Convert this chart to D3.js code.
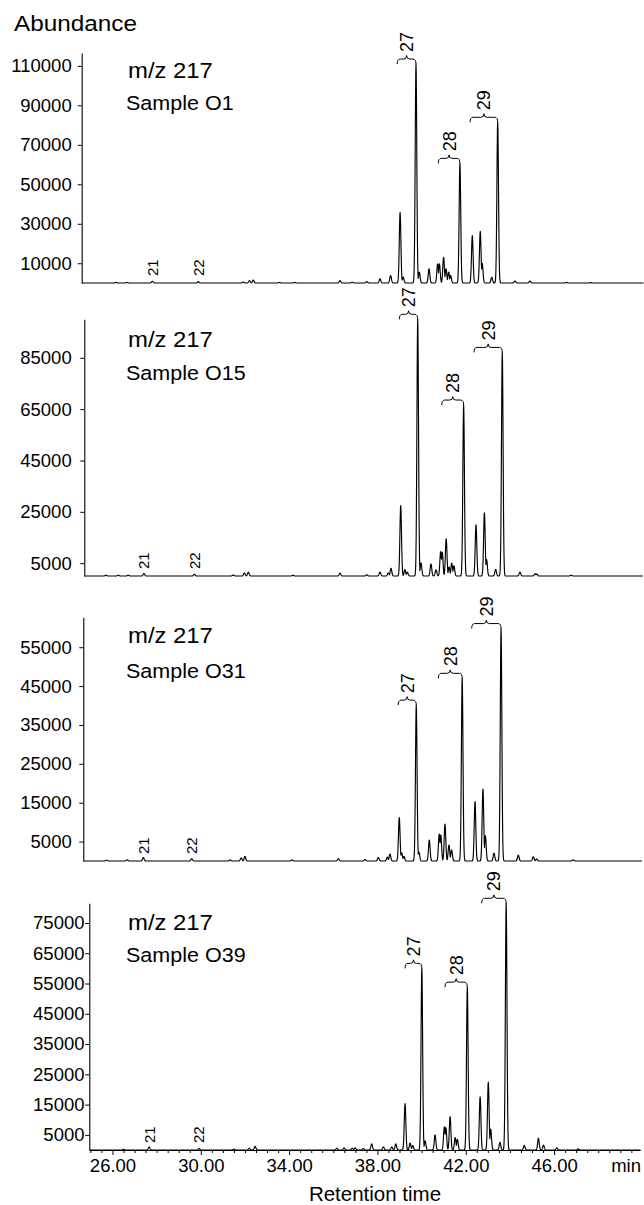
<!DOCTYPE html>
<html><head><meta charset="utf-8">
<script src="https://cdn.jsdelivr.net/npm/d3@7"></script>
<style>
body{margin:0;background:#fff;}
svg{display:block;font-family:"Liberation Sans",Arial,Helvetica,sans-serif;}
</style></head><body>
<svg id="chart" width="644" height="1205"></svg>
<script>
// ---------- DATA ----------
const samples = ["Sample O1", "Sample O15", "Sample O31", "Sample O39"];
const ionLabel = "m/z 217";
const yMaxes = [116500, 100000, 62700, 81500];
const yTicks1 = [10000, 30000, 50000, 70000, 90000, 110000];
const yTicks2 = [5000, 25000, 45000, 65000, 85000];
const yTicks3 = [5000, 15000, 25000, 35000, 45000, 55000];
const yTicks4 = [5000, 15000, 25000, 35000, 45000, 55000, 65000, 75000];
const xTicks = [26, 30, 34, 38, 42, 46];
const xDomain = [24.95, 49.9];

// peaks: [retention time (min), abundance]
const peaksO1 = [[26.50,300],[27.00,300],[28.15,900],[30.23,700],[32.27,500],[32.55,1200],[32.72,1500],[33.90,300],[34.60,300],[36.65,1200],[37.20,400],[37.86,700],[38.46,2100],[38.94,3800],[39.37,35800],[39.51,3000],[40.09,110900],[40.24,5500],[40.68,7200],[41.07,9700],[41.15,9700],[41.34,13000],[41.45,7200],[41.57,5500],[41.66,3800],[42.08,60600],[42.64,24000],[43.00,26200],[43.09,10000],[43.52,2900],[43.79,81400],[44.57,1000],[45.25,1000],[46.90,300],[48.00,200]];
const peaksO15 = [[25.93,300],[26.49,300],[26.94,300],[27.65,1000],[29.93,700],[31.70,400],[32.20,1200],[32.38,1500],[34.40,300],[36.53,1100],[37.74,500],[38.34,1500],[38.72,1200],[38.84,3000],[39.28,27400],[39.47,2500],[39.58,1500],[40.05,100000],[40.20,5100],[40.65,4700],[40.88,2400],[41.09,9500],[41.16,9300],[41.34,14500],[41.47,3500],[41.59,5000],[41.69,4000],[42.13,66600],[42.69,19900],[43.07,24600],[43.17,6400],[43.58,2600],[43.88,87100],[44.68,1500],[45.36,900],[45.44,800],[47.00,300]];
const peaksO31 = [[26.00,200],[26.94,300],[27.67,900],[29.86,600],[31.60,300],[32.10,800],[32.27,1200],[34.40,300],[36.50,600],[37.71,400],[38.31,900],[38.72,1000],[38.84,1800],[39.26,11150],[39.37,2100],[39.47,1200],[40.03,40100],[40.15,2300],[40.62,5400],[41.07,6900],[41.14,6700],[41.33,9500],[41.51,4100],[41.63,2850],[42.11,47000],[42.69,15300],[43.05,18500],[43.16,6500],[43.55,2000],[43.87,59800],[44.65,1500],[45.33,1100],[45.48,500],[47.14,300]];
const peaksO39 = [[26.50,200],[27.66,1000],[29.92,500],[31.50,300],[32.20,600],[32.46,1200],[36.16,600],[36.49,700],[36.86,600],[36.99,700],[37.36,500],[37.74,2000],[38.27,1000],[38.65,1000],[38.83,2000],[39.25,15300],[39.48,2300],[39.60,1500],[40.01,60000],[40.16,3000],[40.61,5000],[41.03,7650],[41.10,7400],[41.29,11000],[41.52,4100],[41.62,3500],[42.07,53800],[42.65,17600],[43.02,22400],[43.13,6900],[43.55,2500],[43.83,81500],[44.65,1500],[45.29,3900],[45.52,1600],[46.12,700],[47.09,400]];

const minorLabels = ["21", "22"];
const minorRT = [[28.15, 30.23], [27.65, 29.93], [27.67, 29.86], [27.66, 29.92]];
const groupLabels = ["27", "28", "29"];
const groupStart = [[39.24, 41.10, 42.54], [39.22, 41.14, 42.60], [39.21, 41.03, 42.54], [39.25, 41.06, 42.72]];
const groupApex = [[40.09, 42.08, 43.79], [40.05, 42.13, 43.88], [40.03, 42.11, 43.87], [40.01, 42.07, 43.83]];

// ---------- LAYOUT ----------
const allPeaks = [peaksO1, peaksO15, peaksO31, peaksO39];
const allYTicks = [yTicks1, yTicks2, yTicks3, yTicks4];
const layout = [
  {axisX: 81.7, top: 53, base: 283, pad: 6, mzY: 78, smY: 110, tEnd: 50.4},
  {axisX: 84.3, top: 319.3, base: 576, pad: 8.6, mzY: 346.7, smY: 380, tEnd: 50.25},
  {axisX: 83.3, top: 617.3, base: 861, pad: 7.6, mzY: 643.3, smY: 678.3, tEnd: 50.25},
  {axisX: 89.3, top: 903.3, base: 1150, pad: 0.8, mzY: 930, smY: 961.7, tEnd: 49.9}
];
const SIG = 0.036;
const svg = d3.select("#chart");

function stretched(sel, factor) {
  sel.each(function () {
    const w = this.getComputedTextLength();
    d3.select(this).attr("textLength", w * factor).attr("lengthAdjust", "spacingAndGlyphs");
  });
  return sel;
}

stretched(svg.append("text").attr("x", 14).attr("y", 31)
  .attr("font-size", 21.5).attr("fill", "#000").text("Abundance"), 1.13);

function buildTrace(peaks, t0, t1) {
  const ts = d3.range(t0, t1, 0.01).concat(peaks.map(p => p[0]), [t1]).sort((a, b) => a - b);
  return ts.map(t => [t, d3.max(peaks, ([rt, h]) => h * Math.exp(-0.5 * ((t - rt) / SIG) ** 2))]);
}

layout.forEach((L, i) => {
  const peaks = allPeaks[i];
  const x = d3.scaleLinear().domain(xDomain).range([L.axisX, L.axisX + 550.9]);
  const y = d3.scaleLinear().domain([0, yMaxes[i]]).range([L.base, L.top]);
  const g = svg.append("g");

  // y axis
  const ya = g.append("g").attr("transform", `translate(${L.axisX},0)`)
    .call(d3.axisLeft(y).tickValues(allYTicks[i]).tickSizeInner(4).tickSizeOuter(0)
      .tickPadding(L.pad).tickFormat(d3.format("d")));
  ya.select(".domain").attr("stroke", "#000").attr("stroke-width", 1.1);
  ya.selectAll(".tick line").attr("stroke", "#000");
  ya.selectAll(".tick text").attr("font-size", 18.5).attr("fill", "#000")
    .attr("font-family", "Liberation Sans, Arial, sans-serif");

  // x axis on last panel
  if (i === layout.length - 1) {
    const minor = d3.range(25, 50, 0.5).filter(v => !xTicks.includes(v));
    g.append("g").attr("transform", `translate(0,${L.base})`)
      .call(d3.axisBottom(x).tickValues(minor).tickSize(3).tickFormat(""))
      .call(s => s.select(".domain").remove())
      .selectAll("line").attr("stroke", "#000");
    const xa = g.append("g").attr("transform", `translate(0,${L.base})`)
      .call(d3.axisBottom(x).tickValues(xTicks).tickSizeInner(5).tickSizeOuter(0)
        .tickPadding(3.6).tickFormat(d3.format(".2f")));
    xa.select(".domain").attr("stroke", "#000").attr("stroke-width", 1.1);
    xa.selectAll(".tick line").attr("stroke", "#000");
    xa.selectAll(".tick text").attr("font-size", 18.5).attr("fill", "#000")
      .attr("font-family", "Liberation Sans, Arial, sans-serif");
    svg.append("text").attr("x", 641).attr("y", 1171.7).attr("text-anchor", "end")
      .attr("font-size", 18.5).attr("fill", "#000").text("min");
    svg.append("text").attr("x", 375).attr("y", 1201).attr("text-anchor", "middle")
      .attr("font-size", 20.5).attr("fill", "#000").text("Retention time");
  }

  // trace
  const data = buildTrace(peaks, xDomain[0], L.tEnd);
  g.append("path").datum(data)
    .attr("fill", "none").attr("stroke", "#000").attr("stroke-width", 1.15)
    .attr("stroke-linejoin", "round")
    .attr("d", d3.line().x(d => x(d[0])).y(d => y(d[1])));

  // titles
  stretched(g.append("text").attr("x", 128).attr("y", L.mzY).attr("font-size", 21.5)
    .attr("fill", "#000").text(ionLabel), 1.11);
  stretched(g.append("text").attr("x", 126).attr("y", L.smY).attr("font-size", 20.5)
    .attr("fill", "#000").text(samples[i]), 1.05);

  // minor peak labels (21, 22)
  minorRT[i].forEach((rt, k) => {
    const px = x(rt) + 0.36 * 15, py = L.base - 7;
    g.append("text").attr("transform", `translate(${px},${py}) rotate(-90)`)
      .attr("font-size", 15).attr("fill", "#000").text(minorLabels[k]);
  });

  // group brackets (27, 28, 29)
  groupApex[i].forEach((rt, k) => {
    const pk = peaks.find(p => p[0] === rt);
    const x1 = x(groupStart[i][k]), x2 = x(rt), yT = y(pk[1]);
    const xc = (x1 + x2) / 2;
    const p = d3.path();
    p.moveTo(x1, yT);
    p.quadraticCurveTo(x1, yT - 5, x1 + 3, yT - 5);
    p.lineTo(xc - 3, yT - 5);
    p.quadraticCurveTo(xc, yT - 5, xc, yT - 8.5);
    p.quadraticCurveTo(xc, yT - 5, xc + 3, yT - 5);
    p.lineTo(x2 - 3, yT - 5);
    p.quadraticCurveTo(x2, yT - 5, x2, yT);
    g.append("path").attr("d", p.toString()).attr("fill", "none")
      .attr("stroke", "#000").attr("stroke-width", 1);
    g.append("text").attr("transform", `translate(${xc + 0.36 * 18},${yT - 12}) rotate(-90)`)
      .attr("font-size", 18).attr("fill", "#000").text(groupLabels[k]);
  });
});
</script>
</body></html>
